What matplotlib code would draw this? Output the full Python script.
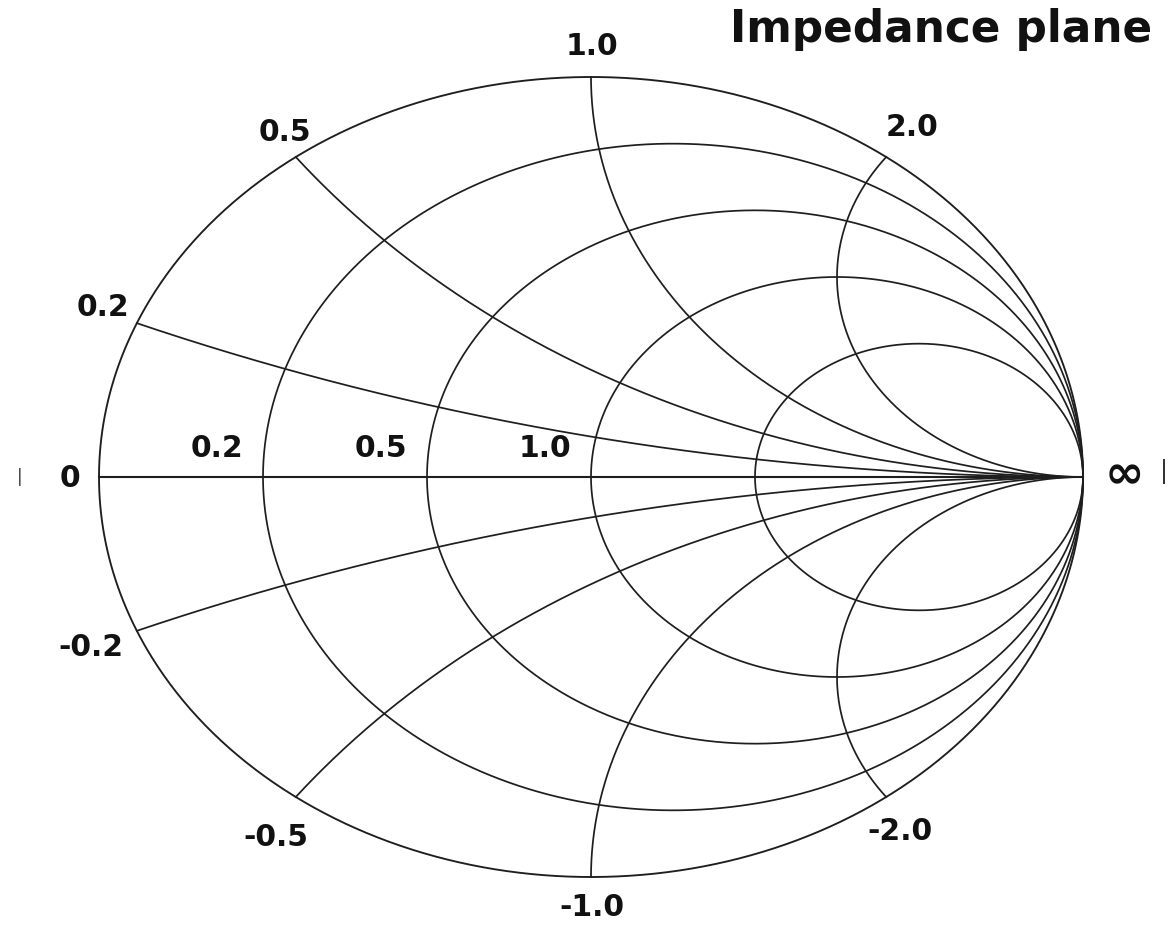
import numpy as np
import matplotlib
matplotlib.use("Agg")
import matplotlib.pyplot as plt

# ---- chart content ----
resistance_values = [0.2, 0.5, 1.0, 2.0]
resistance_labels = ["0.2", "0.5", "1.0"]          # labelled resistance circles
reactance_values = [0.2, 0.5, 1.0, 2.0, -0.2, -0.5, -1.0, -2.0]
reactance_labels = ["0.2", "0.5", "1.0", "2.0", "-0.2", "-0.5", "-1.0", "-2.0"]
title_text = "Impedance plane"

W, H = 1173, 925
fig = plt.figure(figsize=(W / 100, H / 100), dpi=100)
# axes in reflection-coefficient coordinates; unit circle spans the ellipse
left_px, right_px, top_px, bot_px = 99, 1083, 77, 877
ax = fig.add_axes([left_px / W, 1 - bot_px / H, (right_px - left_px) / W, (bot_px - top_px) / H])
ax.set_xlim(-1, 1)
ax.set_ylim(-1, 1)
ax.set_aspect("auto")
ax.axis("off")

lc = "#1e1e1e"
lw = 1.25

def gamma(z):
    return (z - 1) / (z + 1)

# outer circle (r = 0)
t = np.linspace(0, 2 * np.pi, 1000)
ax.plot(np.cos(t), np.sin(t), color=lc, lw=lw + 0.1, clip_on=False)

# resistance circles
for r in resistance_values:
    c = r / (1 + r)
    rad = 1 / (1 + r)
    ax.plot(c + rad * np.cos(t), rad * np.sin(t), color=lc, lw=lw, clip_on=False)

# reactance arcs
rr = np.concatenate([np.linspace(0, 5, 800), np.logspace(np.log10(5.01), 5, 800)])
for x in reactance_values:
    g = gamma(rr + 1j * x)
    ax.plot(g.real, g.imag, color=lc, lw=lw, clip_on=False)

# real axis
ax.plot([-1, 1], [0, 0], color=lc, lw=1.5, clip_on=False)

fs = 21.5
font = dict(family="DejaVu Sans", weight="bold", fontsize=fs, color="#111111")

# resistance labels on the real axis
for r, lab in zip(resistance_values, resistance_labels):
    u = (r - 1) / (r + 1)
    ax.annotate(lab, xy=(u, 0), xytext=(-46, 28), textcoords="offset pixels",
                ha="center", va="center", annotation_clip=False, **font)

# reactance labels at the rim
react_offsets = [(-34, 16), (-11, 24), (1, 30), (26, 29),
                 (-46, -17), (-20, -41), (1, -30), (14, -34)]
for x, lab, off in zip(reactance_values, reactance_labels, react_offsets):
    g = gamma(1j * x)
    ax.annotate(lab, xy=(g.real, g.imag), xytext=off, textcoords="offset pixels",
                ha="center", va="center", annotation_clip=False, **font)

# 0 and infinity
ax.annotate("0", xy=(-1, 0), xytext=(-29, -2), textcoords="offset pixels",
            ha="center", va="center", annotation_clip=False, **font)
ax.annotate("\u221e", xy=(1, 0), xytext=(41, 1), textcoords="offset pixels",
            ha="center", va="center", annotation_clip=False,
            family="DejaVu Sans", weight="bold", fontsize=34, color="#111111")
ax.annotate("|", xy=(-1, 0), xytext=(-79, 0), textcoords="offset pixels",
            ha="center", va="center", annotation_clip=False,
            family="DejaVu Sans", fontsize=12, color="#333333")
ax.annotate("|", xy=(1, 0), xytext=(81, 5), textcoords="offset pixels",
            ha="center", va="center", annotation_clip=False,
            family="DejaVu Sans", fontsize=17, color="#333333")

fig.text(941 / W, 1 - 42 / H, title_text, ha="center", va="baseline",
         family="DejaVu Sans", weight="bold", fontsize=31.5, color="#111111")

fig.savefig("out.png", dpi=100, facecolor="white")
